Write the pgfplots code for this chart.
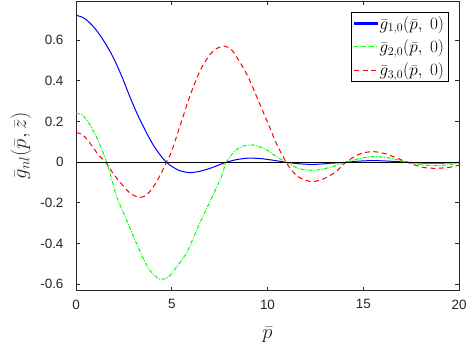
\documentclass[border=0pt]{standalone}
\usepackage[no-math]{fontspec}
\setmainfont{Liberation Sans}
\usepackage{pgfplots}
\pgfplotsset{compat=1.18}
\definecolor{axgray}{RGB}{38,38,38}
\definecolor{mblue}{RGB}{0,0,255}
\definecolor{mgreen}{RGB}{0,255,0}
\definecolor{mred}{RGB}{255,0,0}
\begin{document}
\begin{tikzpicture}
\useasboundingbox (0,0) rectangle (470bp,352bp);
\begin{axis}[
  at={(76bp,61.3bp)}, anchor=south west,
  scale only axis, width=383bp, height=289.7bp,
  xmin=0, xmax=20, ymin=-0.632, ymax=0.793,
  xtick={0,5,10,15,20}, xticklabels={0,5,10,15,20},
  ytick={-0.6,-0.4,-0.2,0,0.2,0.4,0.6},
  yticklabels={-0.6,-0.4,-0.2,0,0.2,0.4,0.6},
  tick align=inside, major tick length=4bp,
  axis line style={axgray, line width=0.8bp},
  every tick/.style={axgray, line width=0.8bp},
  tick label style={font=\fontsize{13.5}{16}\selectfont, text=axgray},
  yticklabel style={xshift=-9bp},
  xticklabel style={yshift=-5.5bp},
  xlabel={$\bar{p}$}, ylabel={$\bar{g}_{nl}(\bar{p},\bar{z})$},
  every axis x label/.style={at={(axis description cs:0.5,-0.152)}, anchor=center,
    inner sep=0pt, font=\fontsize{21}{25}\selectfont, text=axgray},
  every axis y label/.style={at={(axis description cs:-0.1436,0.5)}, anchor=center, rotate=90,
    inner sep=0pt, font=\fontsize{21}{25}\selectfont, text=axgray},
  legend style={at={(axis description cs:0.972,0.962)}, anchor=north east,
    fill=white,
    font=\fontsize{17}{20}\selectfont, row sep=5bp, inner sep=2bp},
  legend cell align=left,
]
% g_{1,0}
\addplot[mblue, line width=1bp, smooth,
  legend image code/.code={\fill[mblue] (0bp,-0.65bp) rectangle (23bp,0.65bp);}] coordinates {
(0,0.723)(0.4,0.71)(0.8,0.678)(1.2,0.632)(1.6,0.574)(2.0,0.505)(2.4,0.42)
(2.8,0.325)(3.2,0.237)(3.6,0.16)(4.0,0.09)(4.4,0.035)(4.72,0)(5.0,-0.02)
(5.4,-0.041)(5.9,-0.051)(6.4,-0.046)(7.0,-0.03)(7.5,-0.012)(7.85,0)
(8.4,0.013)(9.0,0.02)(9.6,0.018)(10.2,0.011)(10.97,0)(11.7,-0.008)
(12.4,-0.011)(13.2,-0.006)(14.1,0)(14.9,0.006)(15.6,0.008)(16.4,0.005)
(17.3,0)(18.1,-0.004)(18.8,-0.005)(19.5,-0.003)(20,-0.001)};
\addlegendentry{$\bar{g}_{1,0}(\bar{p},\;0)$}
% g_{2,0}
\addplot[mgreen, line width=1bp, smooth, dash pattern=on 4bp off 1.5bp on 1bp off 1.5bp,
  legend image code/.code={\draw[mgreen, line width=1.2bp, dash pattern=on 4bp off 1.5bp on 1bp off 1.5bp] (0bp,0bp) -- (23bp,0bp);}] coordinates {
(0,0.241)(0.3,0.234)(0.56,0.208)(0.8,0.172)(1.08,0.122)(1.35,0.063)(1.6,0)
(1.85,-0.08)(2.12,-0.169)(2.64,-0.284)(3.16,-0.40)(3.68,-0.505)(4.0,-0.548)
(4.4,-0.576)(4.8,-0.566)(5.2,-0.522)(5.76,-0.448)(6.1,-0.378)(6.46,-0.30)
(6.8,-0.232)(7.15,-0.163)(7.59,-0.071)(7.85,0)(8.3,0.055)(8.75,0.08)
(9.2,0.085)(9.65,0.074)(10.1,0.052)(10.5,0.025)(10.97,0)(11.6,-0.03)
(12.4,-0.04)(13.2,-0.027)(14.1,0)(14.9,0.02)(15.6,0.028)(16.4,0.02)
(17.3,0)(18.0,-0.012)(18.7,-0.017)(19.4,-0.013)(20,-0.005)};
\addlegendentry{$\bar{g}_{2,0}(\bar{p},\;0)$}
% g_{3,0}
\addplot[mred, line width=1bp, smooth, dash pattern=on 5bp off 3.5bp,
  legend image code/.code={\draw[mred, line width=1.2bp, dash pattern=on 5bp off 3.5bp] (0bp,0bp) -- (23bp,0bp);}] coordinates {
(0,0.146)(0.3,0.138)(0.6,0.11)(0.9,0.072)(1.2,0.032)(1.55,0)(1.9,-0.05)
(2.2,-0.087)(2.5,-0.12)(2.8,-0.15)(3.1,-0.167)(3.35,-0.173)(3.6,-0.166)
(3.85,-0.145)(4.1,-0.112)(4.375,-0.068)(4.72,0)(4.98,0.05)(5.42,0.175)
(5.94,0.323)(6.46,0.446)(6.98,0.528)(7.4,0.562)(7.76,0.571)(8.1,0.555)
(8.37,0.52)(8.7,0.47)(9.06,0.405)(9.58,0.29)(10.1,0.175)(10.45,0.095)
(10.97,0)(11.32,-0.046)(11.75,-0.08)(12.36,-0.095)(12.97,-0.08)
(13.58,-0.046)(14.1,0)(14.8,0.04)(15.5,0.052)(16.2,0.04)(17.3,0)
(18.1,-0.025)(18.8,-0.03)(19.5,-0.025)(20,-0.015)};
\addlegendentry{$\bar{g}_{3,0}(\bar{p},\;0)$}
% zero line
\addplot[black, line width=1bp, forget plot] coordinates {(0,0)(20,0)};
\end{axis}
\end{tikzpicture}
\end{document}
